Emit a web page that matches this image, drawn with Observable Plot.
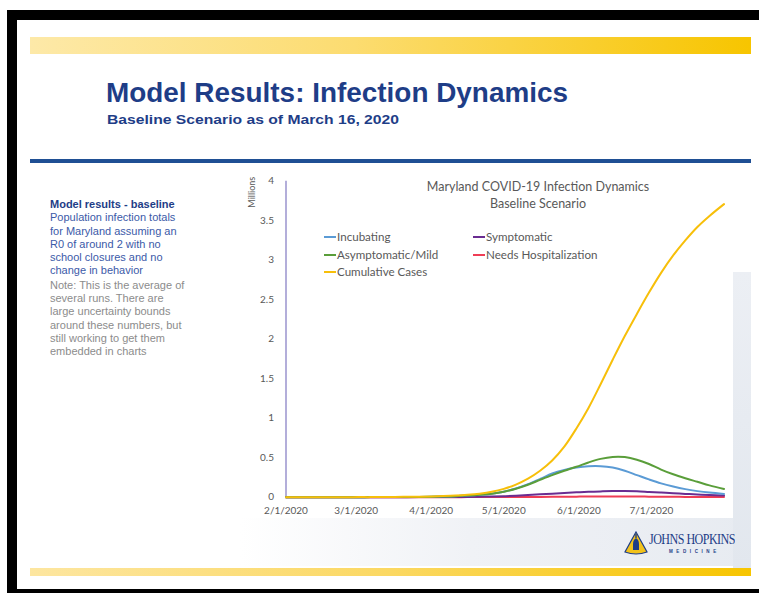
<!DOCTYPE html>
<html>
<head>
<meta charset="utf-8">
<script src="https://cdn.jsdelivr.net/npm/d3@7"></script>
<script src="https://cdn.jsdelivr.net/npm/@observablehq/plot@0.6"></script>
<style>
  html, body { margin: 0; padding: 0; }
  body { width: 759px; height: 593px; position: relative; overflow: hidden; background: #fff; font-family: "Liberation Sans", Arial, sans-serif; }
  .abs { position: absolute; }
  #title { left: 106px; top: 79px; font-size: 28px; font-weight: bold; color: #1e3d87; white-space: nowrap; transform-origin: left top; line-height: 1; }
  #subtitle { left: 107px; top: 113px; font-size: 13px; font-weight: bold; color: #1e3d87; white-space: nowrap; transform-origin: left top; line-height: 1; }
  #side { left: 50px; top: 198px; width: 185px; font-size: 11px; line-height: 13.3px; }
  #side .h { color: #1e3d87; font-weight: bold; }
  #side .b { color: #3b5aa8; }
  #side .n { color: #8c8c8c; margin-top: 1px; }
  .ctitle { font-family: Lato, sans-serif; color: #595959; font-size: 12.5px; white-space: nowrap; transform: translateX(-50%); line-height: 1; }
  .leg { font-family: Lato, sans-serif; color: #595959; font-size: 11.6px; white-space: nowrap; line-height: 1; display: flex; align-items: center; }
  .leg i { display: inline-block; width: 12px; height: 2px; margin-right: 1px; }
</style>
</head>
<body>
<script>
// ---------------- data ----------------
const startDate = "2020-02-01";
const dayOffsets = [0,5,10,15,20,25,30,35,40,45,50,55,60,65,70,75,80,85,90,95,100,105,110,115,120,125,130,135,140,145,150,155,160,165,170,175,181];
const incubating = [0,0,0,0,0,0,0,0.001,0.001,0.002,0.003,0.004,0.006,0.009,0.013,0.02,0.03,0.045,0.07,0.11,0.165,0.23,0.3,0.345,0.375,0.392,0.393,0.375,0.335,0.28,0.225,0.175,0.135,0.102,0.077,0.058,0.042];
const asymptomaticMild = [0,0,0,0,0,0,0,0.001,0.001,0.002,0.003,0.004,0.006,0.009,0.013,0.02,0.03,0.045,0.07,0.108,0.158,0.22,0.28,0.335,0.385,0.44,0.485,0.51,0.508,0.475,0.42,0.35,0.29,0.24,0.195,0.15,0.104];
const symptomatic = [0,0,0,0,0,0,0,0,0,0,0,0.001,0.001,0.002,0.003,0.004,0.006,0.009,0.013,0.019,0.027,0.036,0.045,0.054,0.062,0.068,0.073,0.077,0.078,0.074,0.066,0.058,0.05,0.042,0.034,0.027,0.02];
const needsHospitalization = [0,0,0,0,0,0,0,0,0,0,0,0,0,0,0.0005,0.001,0.001,0.001,0.002,0.002,0.003,0.004,0.005,0.006,0.007,0.008,0.008,0.008,0.008,0.008,0.007,0.006,0.005,0.004,0.004,0.003,0.003];
const cumulativeCases = [0,0,0,0,0,0.0005,0.001,0.001,0.002,0.003,0.005,0.007,0.01,0.014,0.02,0.03,0.045,0.068,0.105,0.16,0.235,0.335,0.465,0.64,0.87,1.13,1.43,1.74,2.04,2.32,2.59,2.84,3.06,3.25,3.42,3.56,3.71];
const seriesNames = ["Incubating", "Symptomatic", "Asymptomatic/Mild", "Needs Hospitalization", "Cumulative Cases"];
const seriesColors = ["#5b9bd5", "#6a2c91", "#5a9e3a", "#ef3d55", "#f7bf0a"];
const xTickDates = ["2020-02-01","2020-03-01","2020-04-01","2020-05-01","2020-06-01","2020-07-01"];
const xTickLabels = ["2/1/2020","3/1/2020","4/1/2020","5/1/2020","6/1/2020","7/1/2020"];
const yTicks = [0,0.5,1,1.5,2,2.5,3,3.5,4];
const yTickLabels = ["0","0.5","1","1.5","2","2.5","3","3.5","4"];
const chartTitle = ["Maryland COVID-19 Infection Dynamics", "Baseline Scenario"];
const yLabel = "Millions";
const slideTitle = "Model Results: Infection Dynamics";
const slideSubtitle = "Baseline Scenario as of March 16, 2020";
const sideHeading = "Model results - baseline";
const sideBody = ["Population infection totals", "for Maryland assuming an", "R0 of around 2 with no", "school closures and no", "change in behavior"];
const sideNote = ["Note: This is the average of", "several runs. There are", "large uncertainty bounds", "around these numbers, but", "still working to get them", "embedded in charts"];
</script>

<!-- slide decoration -->
<div class="abs" style="left:7px;top:10px;width:752px;height:10px;background:#000"></div>
<div class="abs" style="left:7px;top:10px;width:10px;height:583px;background:#000"></div>
<div class="abs" style="left:7px;top:589px;width:752px;height:4px;background:#000"></div>
<div class="abs" style="left:30px;top:37px;width:721px;height:17px;background:linear-gradient(90deg,#fde9a8 0%,#fcdc70 45%,#f7c500 100%)"></div>
<div class="abs" style="left:30px;top:159px;width:721px;height:4px;background:#1f4f94"></div>
<div class="abs" style="left:30px;top:568px;width:721px;height:8px;background:linear-gradient(90deg,#fde6a0 0%,#fbd862 50%,#f7c500 100%)"></div>
<div class="abs" style="left:240px;top:518px;width:511px;height:48px;background:linear-gradient(90deg,rgba(240,242,246,0) 0%,#f0f2f6 45%,#e7ebf1 100%)"></div>
<div class="abs" style="left:733px;top:272px;width:18px;height:296px;background:linear-gradient(180deg,#eceff4,#e2e7ee)"></div>

<div id="title" class="abs"></div>
<div id="subtitle" class="abs"></div>
<div id="side" class="abs"></div>

<div id="chart" class="abs" style="left:240px;top:170px;width:500px;height:350px"></div>
<div id="ct1" class="abs ctitle" style="left:538px;top:181px"></div>
<div id="ct2" class="abs ctitle" style="left:538px;top:198px"></div>
<div id="legend"></div>

<!-- logo -->
<svg class="abs" style="left:624px;top:531px" width="24" height="24" viewBox="0 0 24 24">
  <path d="M12 1 L23 21 Q12 25 1 21 Z" fill="#f2c21b" stroke="#1e3d87" stroke-width="1.2"/>
  <path d="M12 7 Q15 9 15 13 L15 19 L9 19 L9 13 Q9 9 12 7 Z" fill="#1e3d87"/>
  <rect x="11.3" y="3" width="1.4" height="4" fill="#1e3d87"/>
</svg>
<div class="abs" style="left:649px;top:532px;font-family:'Liberation Serif',serif;font-size:14px;color:#1e3d87;letter-spacing:-0.6px;white-space:nowrap;transform:scaleX(0.86);transform-origin:left top">JOHNS HOPKINS</div>
<div class="abs" style="left:669px;top:549px;font-family:'Liberation Sans',sans-serif;font-size:4.5px;font-weight:bold;color:#1e3d87;letter-spacing:3.6px;white-space:nowrap">MEDICINE</div>

<script>
// text
function fit(el, text, width) {
  el.textContent = text;
  const w = el.getBoundingClientRect().width;
  el.style.transform = `scaleX(${width / w})`;
}
fit(document.getElementById("title"), slideTitle, 462);
fit(document.getElementById("subtitle"), slideSubtitle, 292);
const side = document.getElementById("side");
side.innerHTML = `<div class="h">${sideHeading}</div>` +
  `<div class="b">${sideBody.join("<br>")}</div>` +
  `<div class="n">${sideNote.join("<br>")}</div>`;
document.getElementById("ct1").textContent = chartTitle[0];
document.getElementById("ct2").textContent = chartTitle[1];

// legend
const legendPos = [[324, 237], [473, 237], [324, 254.5], [473, 254.5], [324, 272]];
const legend = document.getElementById("legend");
seriesNames.forEach((name, i) => {
  const d = document.createElement("div");
  d.className = "abs leg";
  d.style.left = legendPos[i][0] + "px";
  d.style.top = (legendPos[i][1] - 7) + "px";
  d.style.height = "14px";
  d.innerHTML = `<i style="background:${seriesColors[i]}"></i>${name}`;
  legend.appendChild(d);
});

// chart
const parse = d3.utcParse("%Y-%m-%d");
const start = parse(startDate);
const dates = dayOffsets.map(d => d3.utcDay.offset(start, d));
const valuesByName = {
  "Incubating": incubating,
  "Symptomatic": symptomatic,
  "Asymptomatic/Mild": asymptomaticMild,
  "Needs Hospitalization": needsHospitalization,
  "Cumulative Cases": cumulativeCases
};
const colorOf = Object.fromEntries(seriesNames.map((n, i) => [n, seriesColors[i]]));
const drawOrder = ["Needs Hospitalization", "Symptomatic", "Incubating", "Asymptomatic/Mild", "Cumulative Cases"];
const rowsFor = name => dates.map((date, i) => ({date, value: valuesByName[name][i], name}));
const tickDates = xTickDates.map(parse);
const xLabelOf = new Map(tickDates.map((d, i) => [+d, xTickLabels[i]]));
const yLabelOf = new Map(yTicks.map((v, i) => [v, yTickLabels[i]]));

const plot = Plot.plot({
  width: 500,
  height: 350,
  marginLeft: 45.5,
  marginRight: 16.5,
  marginTop: 10.7,
  marginBottom: 23.3,
  style: {fontFamily: "Lato, sans-serif", fontSize: "10px", color: "#595959", background: "transparent", overflow: "visible"},
  x: {type: "utc", domain: [start, dates[dates.length - 1]], ticks: tickDates, tickFormat: d => xLabelOf.get(+d), tickSize: 0, tickPadding: 10, label: null},
  y: {domain: [0, 4], ticks: yTicks, tickFormat: v => yLabelOf.get(v), tickSize: 0, tickPadding: 12, label: null},
  marks: [
    Plot.ruleX([start], {y1: 0, y2: 4, stroke: "#8078c2", strokeWidth: 1.2}),
    ...drawOrder.map(name => Plot.line(rowsFor(name), {x: "date", y: "value", stroke: colorOf[name], strokeWidth: 2, curve: "catmull-rom"})),
    Plot.text([yLabel], {frameAnchor: "top-left", dx: -34, dy: 11, rotate: -90, textAnchor: "middle", lineAnchor: "middle", fontSize: 9, fill: "#595959"})
  ]
});
document.getElementById("chart").appendChild(plot);
</script>
</body>
</html>
